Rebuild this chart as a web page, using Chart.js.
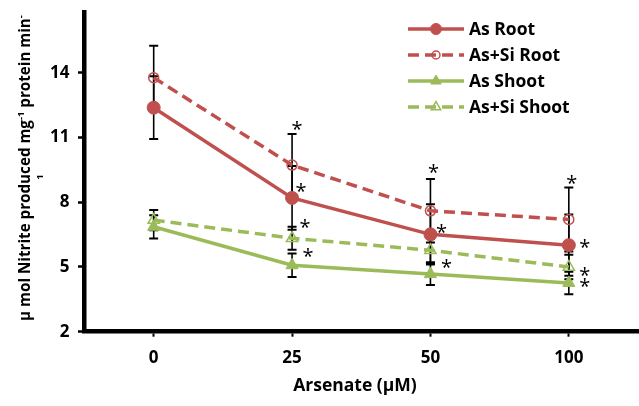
<!DOCTYPE html>
<html><head><meta charset="utf-8">
<script src="https://cdn.jsdelivr.net/npm/chart.js@4.4.0/dist/chart.umd.min.js"></script>
<style>html,body{margin:0;padding:0;background:#fff;}#wrap{width:639px;height:406px;position:relative;}</style>
</head><body><div id="wrap"><canvas id="c" width="639" height="406"></canvas></div>
<script>
// ---- data ----
const categories = ['0', '25', '50', '100'];
const seriesNames = ['As Root', 'As+Si Root', 'As Shoot', 'As+Si Shoot'];
const asRoot      = [12.38, 8.20, 6.51, 6.01];
const asSiRoot    = [13.77, 9.72, 7.60, 7.20];
const asShoot     = [6.86, 5.08, 4.67, 4.26];
const asSiShoot   = [7.17, 6.33, 5.77, 5.00];
const asRootErr    = [1.45, 1.48, 1.40, 1.42];
const asSiRootErr  = [1.48, 1.44, 1.47, 1.48];
const asShootErr   = [0.54, 0.54, 0.51, 0.52];
const asSiShootErr = [0.47, 0.53, 0.55, 0.57];
const asRootSig    = [false, true, true, true];
const asSiRootSig  = [false, true, true, true];
const asShootSig   = [false, true, true, true];
const asSiShootSig = [false, true, false, true];
const yTicks = [2, 5, 8, 11, 14];
const yMin = 2, yMax = 16.78;
const xTitle = 'Arsenate (µM)';

// ---- styles ----
const RED = '#C0504D', GREEN = '#9BBB59';
const FONT = '"Open Sans"';
// asterisk offsets (px) relative to anchor: As+Si Root anchored at error-bar top, others at marker
const sigOffsets = [
  [null, [9, -10], [11, -6], [16, -2]],
  [null, [5, -8], [3, -11], [3, -8]],
  [null, [16, -13], [16, -11], [16, 0]],
  [null, [13, -15], null, [16, 5]]
];

const datasets = [
  {label: seriesNames[0], data: asRoot, errors: asRootErr, sig: asRootSig,
   borderColor: RED, backgroundColor: RED, borderWidth: 3.5,
   pointStyle: 'circle', pointRadius: 6.5, pointBorderWidth: 1, pointBackgroundColor: RED, pointBorderColor: RED},
  {label: seriesNames[1], data: asSiRoot, errors: asSiRootErr, sig: asSiRootSig,
   borderColor: RED, backgroundColor: 'rgba(0,0,0,0)', borderWidth: 3.5, borderDash: [11, 6],
   pointStyle: 'circle', pointRadius: 5, pointBorderWidth: 1.5, pointBackgroundColor: 'rgba(0,0,0,0)', pointBorderColor: RED},
  {label: seriesNames[2], data: asShoot, errors: asShootErr, sig: asShootSig,
   borderColor: GREEN, backgroundColor: GREEN, borderWidth: 3.5,
   pointStyle: 'triangle', pointRadius: 7, pointBorderWidth: 1, pointBackgroundColor: GREEN, pointBorderColor: GREEN},
  {label: seriesNames[3], data: asSiShoot, errors: asSiShootErr, sig: asSiShootSig,
   borderColor: GREEN, backgroundColor: 'rgba(0,0,0,0)', borderWidth: 3.5, borderDash: [11, 6],
   pointStyle: 'triangle', pointRadius: 6.5, pointBorderWidth: 1.5, pointBackgroundColor: 'rgba(0,0,0,0)', pointBorderColor: GREEN}
];

const errPlugin = {
  id: 'errbars',
  beforeDatasetsDraw(chart) {
    const ctx = chart.ctx, ys = chart.scales.y;
    ctx.save();
    ctx.strokeStyle = '#000';
    chart.data.datasets.forEach((ds, di) => {
      const meta = chart.getDatasetMeta(di);
      meta.data.forEach((pt, i) => {
        const v = ds.data[i], e = ds.errors[i];
        const yt = ys.getPixelForValue(v + e), yb = ys.getPixelForValue(v - e);
        ctx.lineWidth = 1.6;
        ctx.beginPath(); ctx.moveTo(pt.x, yt); ctx.lineTo(pt.x, yb); ctx.stroke();
        ctx.lineWidth = 2;
        ctx.beginPath();
        ctx.moveTo(pt.x - 4.5, yt); ctx.lineTo(pt.x + 4.5, yt);
        ctx.moveTo(pt.x - 4.5, yb); ctx.lineTo(pt.x + 4.5, yb);
        ctx.stroke();
      });
    });
    ctx.restore();
  }
};

const sigPlugin = {
  id: 'sig',
  afterDatasetsDraw(chart) {
    const ctx = chart.ctx, ys = chart.scales.y;
    ctx.save();
    ctx.font = '20px ' + FONT;
    ctx.fillStyle = '#000';
    ctx.textAlign = 'center';
    ctx.textBaseline = 'alphabetic';
    const m = ctx.measureText('*');
    const shift = (m.actualBoundingBoxAscent - m.actualBoundingBoxDescent) / 2;
    chart.data.datasets.forEach((ds, di) => {
      const meta = chart.getDatasetMeta(di);
      meta.data.forEach((pt, i) => {
        if (!ds.sig[i] || !sigOffsets[di][i]) return;
        const off = sigOffsets[di][i];
        const anchorY = di === 1 ? ys.getPixelForValue(ds.data[i] + ds.errors[i]) : pt.y;
        ctx.fillText('*', pt.x + off[0], anchorY + off[1] + shift);
      });
    });
    ctx.restore();
  }
};

const decoPlugin = {
  id: 'deco',
  afterDraw(chart) {
    const ctx = chart.ctx;
    // legend
    ctx.save();
    chart.data.datasets.forEach((ds, i) => {
      const y = 29 + 26 * i;
      ctx.save();
      ctx.strokeStyle = ds.borderColor;
      ctx.lineWidth = ds.borderWidth;
      ctx.setLineDash(ds.borderDash || []);
      ctx.beginPath(); ctx.moveTo(408, y); ctx.lineTo(464, y); ctx.stroke();
      ctx.restore();
      ctx.save();
      ctx.fillStyle = ds.pointBackgroundColor;
      ctx.strokeStyle = ds.pointBorderColor;
      ctx.lineWidth = ds.pointBorderWidth;
      Chart.helpers.drawPoint(ctx, {pointStyle: ds.pointStyle, radius: ds.pointRadius - 1, rotation: 0, borderWidth: ds.pointBorderWidth}, 436, y);
      ctx.restore();
      ctx.fillStyle = '#000';
      ctx.font = 'bold 17.5px ' + FONT;
      ctx.textAlign = 'left';
      ctx.textBaseline = 'middle';
      ctx.fillText(ds.label, 469, y + 1);
    });
    ctx.restore();

    // x title
    ctx.save();
    ctx.fillStyle = '#000';
    ctx.font = 'bold 17.5px ' + FONT;
    ctx.textAlign = 'center';
    ctx.textBaseline = 'middle';
    ctx.fillText(xTitle, 355, 386);
    ctx.restore();

    // y title (rotated, with superscripts)
    ctx.save();
    ctx.fillStyle = '#000';
    ctx.translate(30, 168);
    ctx.rotate(-Math.PI / 2);
    const targetLen = 306;
    const measure = (sz) => {
      const parts = [
        ['µ mol Nitrite produced mg', 'bold ' + sz + 'px ' + FONT, 0],
        ['-1', 'bold ' + (sz * 0.62) + 'px ' + FONT, -sz * 0.42],
        [' protein min', 'bold ' + sz + 'px ' + FONT, 0],
        ['-', 'bold ' + (sz * 0.62) + 'px ' + FONT, -sz * 0.42]
      ];
      let t = 0;
      parts.forEach(p => { ctx.font = p[1]; t += ctx.measureText(p[0]).width; });
      return {parts, t};
    };
    let r = measure(16);
    const sz = 16 * targetLen / r.t;
    r = measure(sz);
    let x = -r.t / 2;
    ctx.textBaseline = 'alphabetic';
    ctx.textAlign = 'left';
    r.parts.forEach(p => { ctx.font = p[1]; ctx.fillText(p[0], x, p[2]); x += ctx.measureText(p[0]).width; });
    ctx.font = 'bold ' + (sz * 0.62) + 'px ' + FONT;
    ctx.textAlign = 'center';
    ctx.fillText('1', -9, 19 - sz * 0.42);
    ctx.restore();
  }
};

Chart.defaults.font.family = FONT;
Chart.defaults.color = '#000';

new Chart(document.getElementById('c'), {
  type: 'line',
  data: {labels: categories, datasets: datasets},
  options: {
    responsive: false,
    animation: false,
    devicePixelRatio: 1,
    layout: {autoPadding: false, padding: {top: 12.7, right: 1, left: 0, bottom: 0}},
    plugins: {legend: {display: false}, tooltip: {enabled: false}},
    elements: {line: {tension: 0}},
    scales: {
      x: {
        type: 'category',
        offset: true,
        grid: {display: true, drawOnChartArea: false, drawTicks: true, offset: false,
               tickLength: 5, tickWidth: 2, tickColor: '#000'},
        border: {display: true, color: '#000', width: 4.5},
        ticks: {font: {size: 17, weight: 'bold'}, padding: 11, color: '#000'},
        afterFit(s) { s.height = 406 - 331.7; s.paddingLeft = 0; s.paddingRight = 0; }
      },
      y: {
        type: 'linear',
        min: yMin, max: yMax,
        grid: {display: true, drawOnChartArea: false, drawTicks: true,
               tickLength: 6.5, tickWidth: 2.5, tickColor: '#000'},
        border: {display: true, color: '#000', width: 4.5},
        ticks: {font: {size: 17, weight: 'bold'}, padding: 8.5, color: '#000'},
        afterBuildTicks(s) { s.ticks = yTicks.map(v => ({value: v})); },
        afterFit(s) { s.width = 84.5; s.paddingTop = 0; s.paddingBottom = 0; }
      }
    }
  },
  plugins: [errPlugin, sigPlugin, decoPlugin]
});
</script>
</body></html>
